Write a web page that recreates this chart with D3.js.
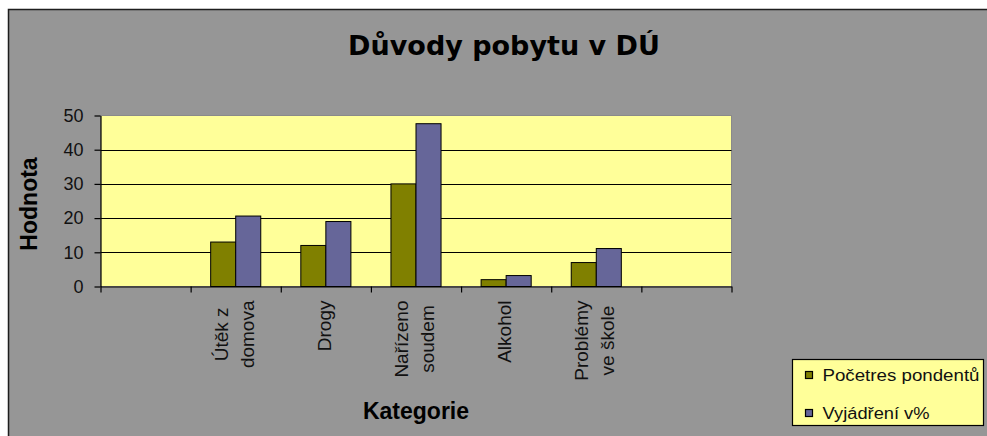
<!DOCTYPE html>
<html>
<head>
<meta charset="utf-8">
<script src="https://cdn.jsdelivr.net/npm/d3@7"></script>
<style>
  html, body { margin: 0; padding: 0; background: #ffffff; }
  svg { display: block; }
</style>
</head>
<body>
<svg id="chart" width="987" height="436"></svg>
<script>
// ---- data ----
const title = "Důvody pobytu v DÚ";
const yAxisTitle = "Hodnota";
const xAxisTitle = "Kategorie";
const categories = ["", "Útěk z\ndomova", "Drogy", "Nařízeno\nsoudem", "Alkohol", "Problémy\nve škole", ""];
const seriesNames = ["Početres pondentů", "Vyjádření v%"];
const countValues = [null, 13, 12, 30, 2, 7, null];
const percentValues = [null, 20.6, 19.0, 47.6, 3.2, 11.1, null];
const yTicks = [0, 10, 20, 30, 40, 50];
const seriesColors = ["#808000", "#666699"];

// ---- layout ----
const svg = d3.select("#chart");
const W = 987, H = 436;
const plot = { left: 100.5, right: 731.5, top: 115.5, bottom: 286.5 };

// chart area
svg.append("rect").attr("x", 8.5).attr("y", 9.5).attr("width", W + 20).attr("height", H + 20)
  .attr("fill", "#969696").attr("stroke", "#1e1e1e").attr("stroke-width", 1.5);

const idx = d3.range(categories.length);
const x = d3.scaleBand().domain(idx).range([plot.left, plot.right]).padding(0);
const xEdge = d3.scaleLinear().domain([0, categories.length]).range([plot.left, plot.right]);
const xs = d3.scaleBand().domain([0, 1]).range([0, x.bandwidth()]).paddingInner(0).paddingOuter(0.8);
const y = d3.scaleLinear().domain([0, 50]).range([plot.bottom, plot.top]);

// plot area
svg.append("rect").attr("x", plot.left).attr("y", plot.top)
  .attr("width", plot.right - plot.left).attr("height", plot.bottom - plot.top)
  .attr("fill", "#FFFF99").attr("stroke", "#8a8a8a").attr("stroke-width", 1);

// gridlines
svg.append("g").selectAll("line").data(yTicks.filter(t => t > 0 && t < 50)).join("line")
  .attr("x1", plot.left).attr("x2", plot.right)
  .attr("y1", d => Math.round(y(d)) + 0.5).attr("y2", d => Math.round(y(d)) + 0.5)
  .attr("stroke", "#000").attr("stroke-width", 1);

// bars
const seriesData = [countValues, percentValues];
seriesData.forEach((vals, s) => {
  svg.append("g").selectAll("rect").data(idx.filter(i => vals[i] != null)).join("rect")
    .attr("x", i => x(i) + xs(s))
    .attr("y", i => y(vals[i]))
    .attr("width", xs.bandwidth())
    .attr("height", i => y(0) - y(vals[i]))
    .attr("fill", seriesColors[s])
    .attr("stroke", "#000").attr("stroke-width", 1);
});

// y axis
const yAxis = svg.append("g").attr("transform", `translate(${plot.left},0)`)
  .call(d3.axisLeft(y).tickValues(yTicks).tickSize(6).tickSizeOuter(0).tickPadding(11));
yAxis.selectAll("path, line").attr("stroke", "#000").attr("stroke-width", 1.2);
yAxis.selectAll("text").attr("font-family", "'Liberation Sans', Arial, sans-serif")
  .attr("font-size", 18).attr("fill", "#111");

// x axis (ticks at category boundaries)
const xAxis = svg.append("g").attr("transform", `translate(0,${plot.bottom})`)
  .call(d3.axisBottom(xEdge).tickValues(d3.range(categories.length + 1)).tickFormat("").tickSize(6).tickSizeOuter(0));
xAxis.selectAll("path, line").attr("stroke", "#000").attr("stroke-width", 1.2);

// category labels (rotated)
const labelG = svg.append("g").attr("font-family", "'Liberation Sans', Arial, sans-serif")
  .attr("font-size", 19).attr("fill", "#111");
idx.forEach(i => {
  if (!categories[i]) return;
  const lines = categories[i].split("\n");
  const c = x(i) + x.bandwidth() / 2;
  const texts = lines.map((ln, k) => {
    const bx = c + 5 + (k - (lines.length - 1) / 2) * 26;
    return labelG.append("text").text(ln).attr("text-anchor", "middle")
      .attr("data-bx", bx);
  });
  const maxLen = d3.max(texts, t => t.node().getComputedTextLength());
  const cy = plot.bottom + 14 + maxLen / 2;
  texts.forEach(t => {
    const bx = +t.attr("data-bx");
    t.attr("transform", `translate(${bx},${cy}) rotate(-90)`);
  });
});

// title
svg.append("text").text(title).attr("x", 504).attr("y", 55).attr("text-anchor", "middle")
  .attr("font-family", "'DejaVu Sans', Verdana, sans-serif").attr("font-weight", "bold")
  .attr("font-size", 27).attr("fill", "#000");

// axis titles
svg.append("text").text(yAxisTitle).attr("transform", `translate(37,204) rotate(-90)`)
  .attr("text-anchor", "middle")
  .attr("font-family", "'Liberation Sans', Arial, sans-serif").attr("font-weight", "bold")
  .attr("font-size", 23).attr("fill", "#000");
svg.append("text").text(xAxisTitle).attr("x", (plot.left + plot.right) / 2).attr("y", 419)
  .attr("text-anchor", "middle")
  .attr("font-family", "'Liberation Sans', Arial, sans-serif").attr("font-weight", "bold")
  .attr("font-size", 23).attr("fill", "#000");

// legend
const lg = svg.append("g");
lg.append("rect").attr("x", 792.5).attr("y", 359.5).attr("width", 191).attr("height", 66)
  .attr("fill", "#FFFF99").attr("stroke", "#000").attr("stroke-width", 1.2);
const legendTextLen = [157, 107];
seriesNames.forEach((name, s) => {
  const cy = 375 + s * 38;
  lg.append("rect").attr("x", 805.5).attr("y", cy - 3.5).attr("width", 7).attr("height", 7)
    .attr("fill", seriesColors[s]).attr("stroke", "#000").attr("stroke-width", 1.2);
  lg.append("text").text(name).attr("x", 822.5).attr("y", cy).attr("dy", "0.35em")
    .attr("font-family", "'Liberation Sans', Arial, sans-serif").attr("font-size", 16)
    .attr("textLength", legendTextLen[s]).attr("lengthAdjust", "spacingAndGlyphs")
    .attr("fill", "#111");
});
</script>
</body>
</html>
